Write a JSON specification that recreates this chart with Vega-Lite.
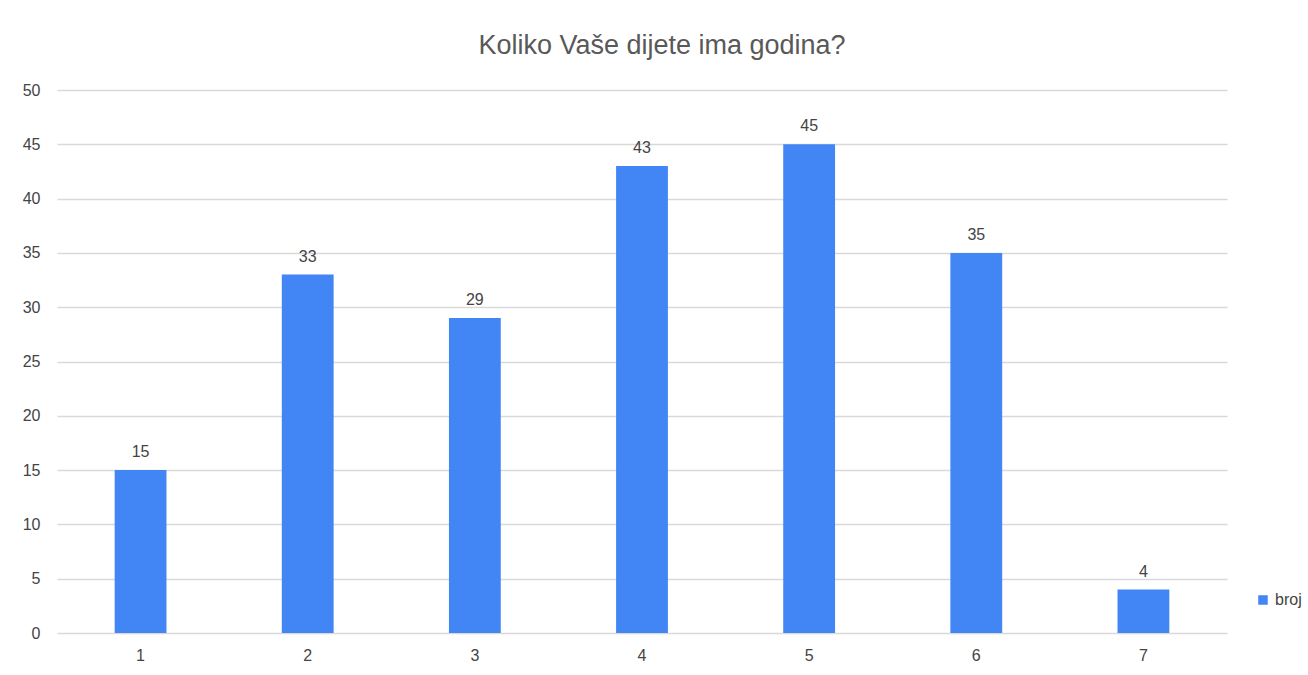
{
  "$schema": "https://vega.github.io/schema/vega-lite/v6.json",
  "width": 1170,
  "height": 543,
  "autosize": {"type": "none"},
  "padding": {"left": 57, "top": 90, "right": 81, "bottom": 42},
  "background": "white",
  "title": {
    "text": "Koliko Vaše dijete ima godina?",
    "anchor": "middle",
    "frame": "group",
    "font": "Liberation Sans",
    "fontSize": 27,
    "fontWeight": "normal",
    "color": "#595959",
    "offset": 22,
    "dx": 20
  },
  "data": {
    "values": [
      {"age": "1", "broj": 15, "series": "broj"},
      {"age": "2", "broj": 33, "series": "broj"},
      {"age": "3", "broj": 29, "series": "broj"},
      {"age": "4", "broj": 43, "series": "broj"},
      {"age": "5", "broj": 45, "series": "broj"},
      {"age": "6", "broj": 35, "series": "broj"},
      {"age": "7", "broj": 4, "series": "broj"}
    ]
  },
  "encoding": {
    "x": {
      "field": "age",
      "type": "ordinal",
      "title": null,
      "scale": {"paddingInner": 0.69, "paddingOuter": 0.345},
      "axis": {
        "labelAngle": 0,
        "labelFont": "Liberation Sans",
        "labelFontSize": 16,
        "labelColor": "#444444",
        "ticks": false,
        "domain": false,
        "labelPadding": 14
      }
    },
    "y": {
      "field": "broj",
      "type": "quantitative",
      "title": null,
      "scale": {"domain": [0, 50], "nice": false},
      "axis": {
        "values": [0, 5, 10, 15, 20, 25, 30, 35, 40, 45, 50],
        "labelFont": "Liberation Sans",
        "labelFontSize": 16,
        "labelColor": "#444444",
        "ticks": false,
        "domain": false,
        "labelPadding": 17,
        "gridColor": "#d9d9d9",
        "gridWidth": 1.5
      }
    }
  },
  "layer": [
    {
      "mark": {"type": "bar"},
      "encoding": {
        "color": {
          "field": "series",
          "type": "nominal",
          "scale": {"range": ["#4285F4"]},
          "legend": {
            "title": null,
            "orient": "none",
            "legendX": 1198,
            "legendY": 502,
            "symbolType": "square",
            "symbolSize": 90,
            "labelFont": "Liberation Sans",
            "labelFontSize": 16,
            "labelColor": "#444444",
            "labelOffset": 4
          }
        }
      }
    },
    {
      "mark": {
        "type": "text",
        "baseline": "bottom",
        "dy": -10,
        "font": "Liberation Sans",
        "fontSize": 16,
        "color": "#444444"
      },
      "encoding": {"text": {"field": "broj", "type": "quantitative"}}
    }
  ],
  "config": {"view": {"stroke": null}}
}
